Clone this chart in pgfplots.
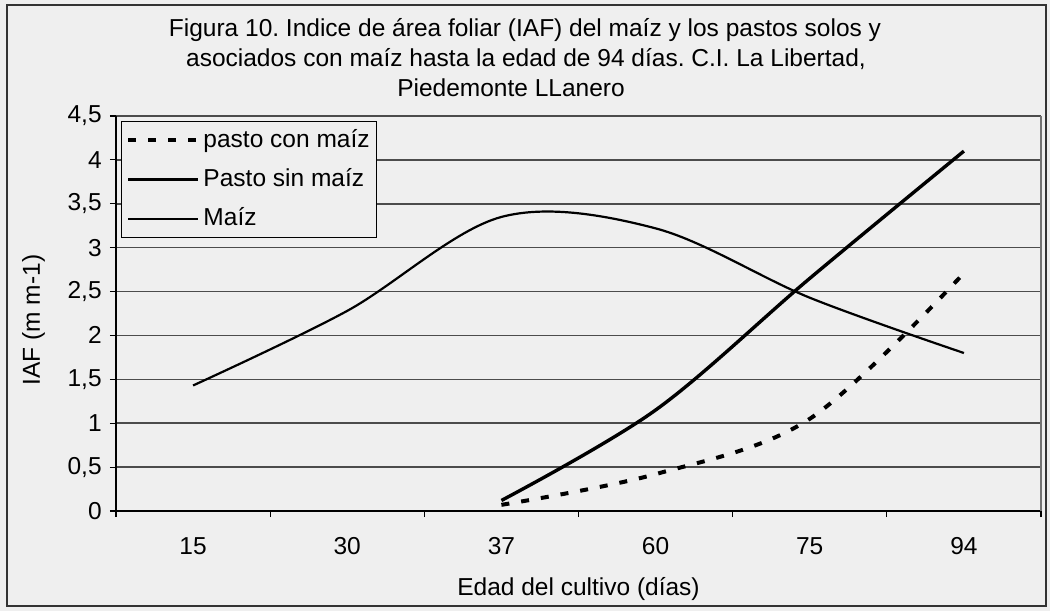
\documentclass[border=0pt]{standalone}
\usepackage{fontspec}
\setmainfont{Liberation Sans}
\usepackage{pgfplots}
\pgfplotsset{compat=1.18}
\definecolor{bg}{RGB}{239,239,239}
\begin{document}
\frenchspacing
\fontsize{24.5}{29}\selectfont
\begin{tikzpicture}
\fill[bg] (-116pt,-100pt) rectangle (934pt,511pt);
\useasboundingbox (-116pt,-100pt) rectangle (934pt,511pt);
\draw[black!80, line width=1.2pt] (-109pt,-95pt) rectangle (930pt,506pt);
\begin{axis}[
  at={(0pt,0pt)}, anchor=south west,
  scale only axis, width=925pt, height=395pt,
  xmin=-0.5, xmax=5.5, ymin=0, ymax=4.5,
  axis x line*=bottom, axis y line*=left,
  axis line style={line width=1.5pt, black, -},
  xtick={-0.5,0.5,1.5,2.5,3.5,4.5,5.5},
  xticklabels={15,30,37,60,75,94,{}},
  xticklabel style={xshift=77.08pt, yshift=-12pt},
  ytick={0,0.5,1,1.5,2,2.5,3,3.5,4,4.5},
  major tick length=6pt,
  tick align=outside,
  tick style={black, line width=1.2pt},
  ymajorgrids, grid style={black!70, line width=1.5pt},
  /pgf/number format/.cd, use comma, fixed, precision=1, assume math mode=true, /pgfplots/.cd,
  xlabel={Edad del cultivo (días)},
  xlabel style={at={(axis description cs:0.5,-0.2127)}, anchor=base},
  ylabel={IAF (m m-1)},
  ylabel style={at={(axis description cs:-0.0822,0.4835)}, anchor=base, rotate=0},
  legend style={at={(rel axis cs:0,1)}, anchor=north west, xshift=5pt, yshift=-5pt,
    draw=black, line width=1pt, fill=bg, inner xsep=5pt, inner ysep=6pt,
    row sep=13.5pt, cells={anchor=west},
    /tikz/every odd column/.append style={column sep=1pt}},
  legend image code/.code={\draw[#1] (0pt,0pt) -- (70pt,0pt);},
  clip=false,
]
\draw[black!55, line width=1.2pt] (rel axis cs:1,0) -- (rel axis cs:1,1);
\addplot[black, line width=4pt, dash pattern=on 8pt off 12pt, smooth, tension=0.55]
  coordinates {(2,0.07) (3,0.42) (4,1.05) (5,2.71)};
\addlegendentry{pasto con maíz}
\addplot[black, line width=3.4pt, smooth, tension=0.55]
  coordinates {(2,0.12) (3,1.15) (4,2.65) (5,4.10)};
\addlegendentry{Pasto sin maíz}
\addplot[black, line width=2.2pt, smooth, tension=0.55]
  coordinates {(0,1.43) (1,2.28) (2,3.35) (3,3.22) (4,2.43) (5,1.80)};
\addlegendentry{Maíz}
\end{axis}
\node[anchor=base] at (409pt,474pt) {Figura 10. Indice de área foliar (IAF) del maíz y los pastos solos y};
\node[anchor=base] at (410pt,444pt) {asociados con maíz hasta la edad de 94 días. C.I. La Libertad,};
\node[anchor=base] at (395pt,414pt) {Piedemonte LLanero};
\end{tikzpicture}
\end{document}
